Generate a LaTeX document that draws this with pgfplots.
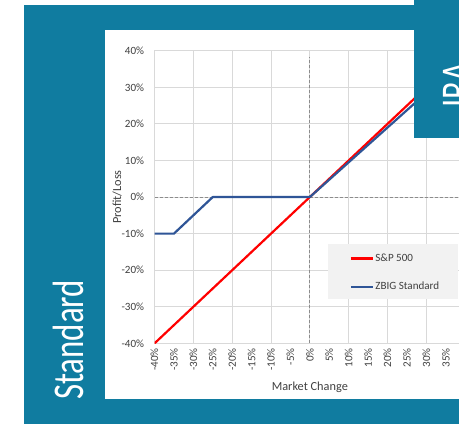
\documentclass[border=0pt]{standalone}
\usepackage{fontspec}
\setmainfont{Carlito}
\usepackage{pgfplots}
\pgfplotsset{compat=1.18}
\definecolor{bg}{RGB}{16,124,160}
\definecolor{gridc}{RGB}{217,217,217}
\definecolor{dashc}{RGB}{140,140,140}
\definecolor{zblue}{RGB}{47,85,151}
\definecolor{legfill}{RGB}{242,242,242}
\definecolor{tickc}{RGB}{64,64,64}
\begin{document}
\begin{tikzpicture}
\clip (0bp,0bp) rectangle (459bp,424bp);
\fill[white] (0bp,0bp) rectangle (459bp,424bp);
\fill[bg] (24bp,0bp) rectangle (470bp,419bp);
\fill[white] (105bp,25bp) rectangle (470bp,394bp);
\begin{axis}[
  at={(154.5bp,80.6bp)}, anchor=south west,
  scale only axis, width=310.7bp, height=292.7bp,
  xmin=-40, xmax=40, ymin=-40, ymax=40,
  xtick={-40,-35,...,35},
  xticklabels={-40\%,-35\%,-30\%,-25\%,-20\%,-15\%,-10\%,-5\%,0\%,5\%,10\%,15\%,20\%,25\%,30\%,35\%},
  minor xtick={-40,-30,...,40},
  xminorgrids=true,
  ytick={-40,-30,...,40},
  yticklabels={-40\%,-30\%,-20\%,-10\%,0\%,10\%,20\%,30\%,40\%},
  ymajorgrids=true,
  grid style={gridc, line width=1bp},
  minor grid style={gridc, line width=1bp},
  major tick length=0pt, minor tick length=0pt,
  axis line style={gridc, line width=1bp},
  ticklabel style={font=\fontsize{11.1}{13}\selectfont, text=tickc, inner sep=0pt},
  xticklabel style={yshift=-4.6bp, rotate=90, anchor=east},
  yticklabel style={xshift=-10.2bp, anchor=east},
  xlabel={Market Change},
  ylabel={Profit/Loss},
  label style={font=\fontsize{12.35}{14}\selectfont, text=tickc, inner sep=0pt},
  xlabel style={at={(axis description cs:0.5,0)}, anchor=base, yshift=-46.6bp},
  ylabel style={at={(axis description cs:-0.1078,0.5)}, anchor=base, rotate=0},
  legend style={draw=none, fill=none, at={(0.5584,0.3338)}, anchor=north west,
    inner xsep=21.7bp, inner ysep=8bp, row sep=19.3bp,
    font=\fontsize{11.1}{13}\selectfont, text=tickc,
    nodes={inner sep=0pt},
    /tikz/every odd column/.style={column sep=1bp}},
  legend cell align=left,
  legend image code/.code={\draw[#1] (0bp,0bp) -- (22.3bp,0bp);},
]
\addplot[dashc, line width=0.9bp, dash pattern=on 3bp off 2bp, forget plot] coordinates {(-40,0) (40,0)};
\addplot[dashc, line width=0.9bp, dash pattern=on 3bp off 2bp, forget plot] coordinates {(0,-40) (0,38.3)};
\addplot[red, line width=2.2bp, line join=round] coordinates {
(-40,-40) (-35,-35) (-30,-30) (-25,-25) (-20,-20) (-15,-15) (-10,-10) (-5,-5) (0,0)
(5,5) (10,10) (15,15) (20,20) (25,25) (30,30) (35,35) (40,40)};
\addlegendentry{S\&P 500}
\addplot[zblue, line width=2.2bp, line join=round] coordinates {
(-40,-10) (-35,-10) (-30,-5) (-25,0) (-20,0) (-15,0) (-10,0) (-5,0) (0,0)
(5,4.75) (10,9.5) (15,14.25) (20,19) (25,23.75) (30,28.5) (35,33.25) (40,38)};
\addlegendentry{ZBIG Standard}
\fill[legfill] (rel axis cs:0.5584,0.3396) rectangle (rel axis cs:0.9768,0.1517);
\end{axis}
\fill[bg] (414bp,286bp) rectangle (470bp,430bp);
\node[rotate=90, anchor=base west, inner sep=0pt, text=white, font=\fontsize{44}{48}\selectfont] at (83bp,24bp) {\scalebox{0.75}[1]{Standard}};
\node[rotate=90, anchor=base west, inner sep=0pt, text=white, font=\fontsize{44}{48}\selectfont] at (471.5bp,316bp) {\scalebox{0.75}[1]{IRA}};
\end{tikzpicture}
\end{document}
